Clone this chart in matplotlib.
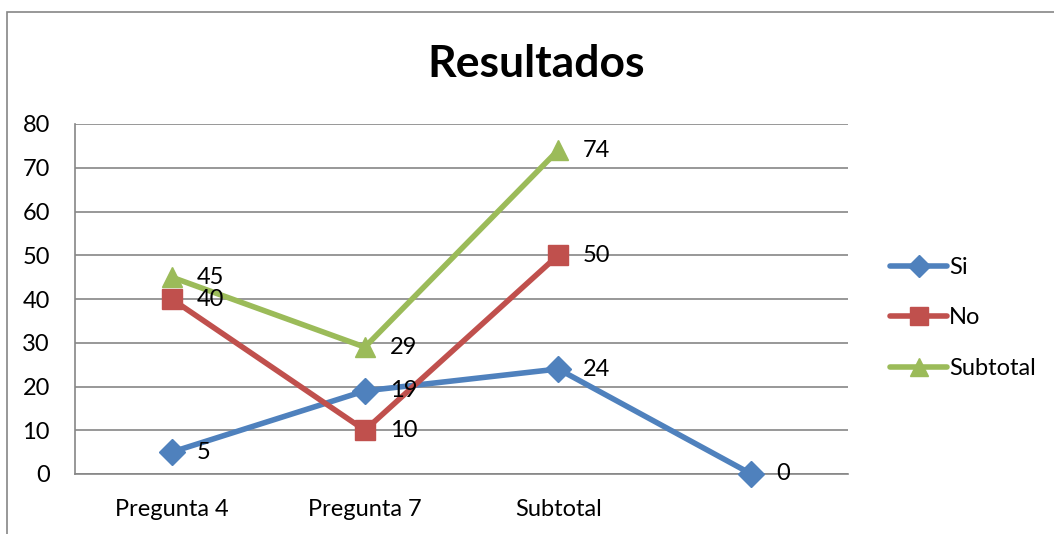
import matplotlib
matplotlib.use("Agg")
import matplotlib.pyplot as plt
from matplotlib.patches import Rectangle

categories = ["Pregunta 4", "Pregunta 7", "Subtotal", ""]
si = [5, 19, 24, 0]
no = [40, 10, 50]
subtotal = [45, 29, 74]
yticks = [0, 10, 20, 30, 40, 50, 60, 70, 80]

plt.rcParams['font.family'] = ['Lato', 'DejaVu Sans']

W, H = 1054, 534
fig = plt.figure(figsize=(W/100, H/100), dpi=100)
fig.patch.set_facecolor('white')

# outer chart border (only left and top visible)
fig.add_artist(Rectangle((7/W, -0.1), 1.2, 1 - 12/H + 0.1, transform=fig.transFigure,
                         fill=False, edgecolor='#868686', linewidth=1.2))

ax = fig.add_axes([75/W, 1 - 474/H, (848-75)/W, (474-124)/H])
x = list(range(len(categories)))

FS = 17
series = [
    ("Si", si, '#4F81BD', 'D', 13),
    ("No", no, '#C0504D', 's', 14),
    ("Subtotal", subtotal, '#9BBB59', '^', 15),
]
for name, vals, col, mk, ms in series:
    xs = x[:len(vals)]
    ax.plot(xs, vals, color=col, linewidth=4, marker=mk, markersize=ms,
            markeredgecolor=col, markerfacecolor=col, label=name,
            solid_capstyle='round', solid_joinstyle='round', clip_on=False, zorder=3)
    for xi, v in zip(xs, vals):
        ax.annotate(str(v), (xi, v), xytext=(18, 0), textcoords='offset points',
                    ha='left', va='center', fontsize=FS, color='black', zorder=5)

ax.set_xlim(-0.5, 3.5)
ax.set_ylim(0, 80)
ax.set_yticks(yticks)
ax.set_xticks(x)
ax.set_xticklabels(categories)
ax.tick_params(axis='both', length=0, labelsize=FS, colors='black')
ax.tick_params(axis='y', pad=18)
ax.tick_params(axis='x', pad=18)
ax.grid(axis='y', color='#868686', linewidth=1.2)
ax.set_axisbelow(True)
for s in ['top', 'right']:
    ax.spines[s].set_visible(False)
for s in ['left', 'bottom']:
    ax.spines[s].set_color('#868686')
    ax.spines[s].set_linewidth(1.2)

fig.text(536/W, 1 - 64/H, "Resultados", ha='center', va='center',
         fontsize=32, fontweight='bold', color='black')

leg = fig.legend(loc='center left', bbox_to_anchor=(869/W, 1 - 318/H), frameon=False,
                 fontsize=FS, handlelength=2.4, labelspacing=1.25, handletextpad=0.1,
                 markerscale=0.9)

fig.savefig("out.png", dpi=100, facecolor='white')
